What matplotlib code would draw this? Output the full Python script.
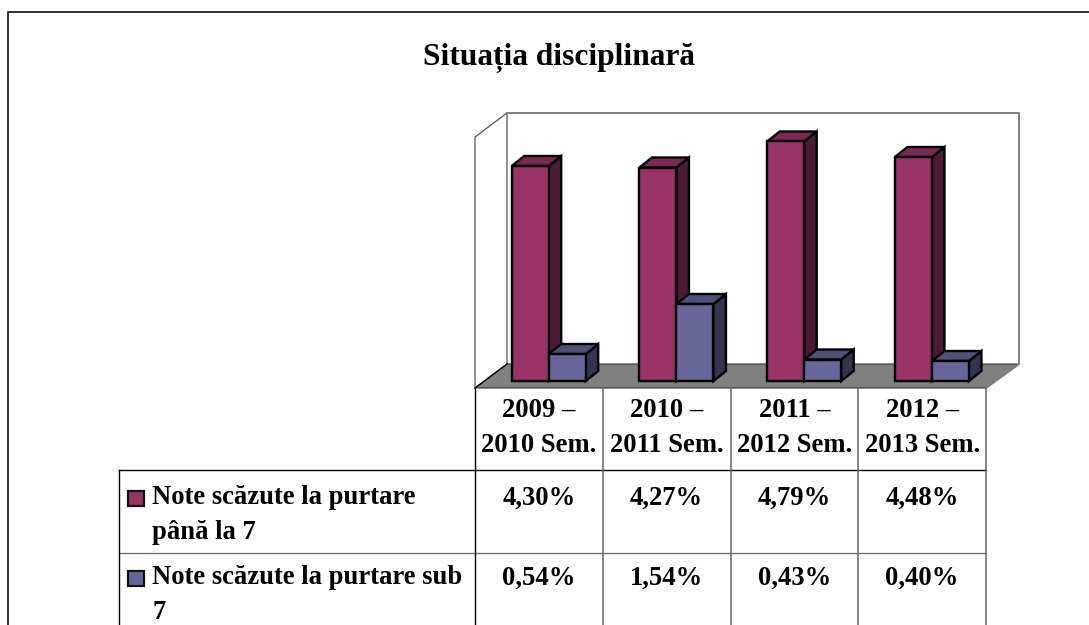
import matplotlib
matplotlib.use('Agg')
import matplotlib.pyplot as plt
from matplotlib.patches import Polygon

title = 'Situația disciplinară'
periods = ['2009 –\n2010 Sem.', '2010 –\n2011 Sem.', '2011 –\n2012 Sem.', '2012 –\n2013 Sem.']
series_names = ['Note scăzute la purtare\npână la 7', 'Note scăzute la purtare sub\n7']
series_a = [4.30, 4.27, 4.79, 4.48]
series_b = [0.54, 1.54, 0.43, 0.40]
labels_a = ['4,30%', '4,27%', '4,79%', '4,48%']
labels_b = ['0,54%', '1,54%', '0,43%', '0,40%']

W, H = 1089, 625
plt.rcParams['font.family'] = ['Liberation Serif', 'DejaVu Serif']
plt.rcParams['font.weight'] = 'bold'
fig = plt.figure(figsize=(W / 100, H / 100), dpi=100, facecolor='white')

# overlay in pixels for frame and table
px = fig.add_axes([0, 0, 1, 1])
px.set_xlim(0, W)
px.set_ylim(H, 0)
px.axis('off')

# chart axes: x = category number, y = percent; 127.75 px per category, 50 px per percent
x0, x1 = 475, 986
y_base, y_top = 381, 131
ax = fig.add_axes([x0 / W, 1 - y_base / H, (x1 - x0) / W, (y_base - y_top) / H])
ax.set_xlim(0, 4)
ax.set_ylim(0, 5)
ax.axis('off')
ax.patch.set_alpha(0)

px.plot([8, 8, W], [H, 12, 12], color='#222222', lw=1.3)
px.text(559, 58, title, fontsize=22.6, ha='center', va='center', color='black')

# walls and floor
wall = '#808080'
px.add_patch(Polygon([(475, 388), (507, 364), (1019, 364), (986, 388)], fc='#808080', ec='#333333', lw=0.8))
px.plot([475, 475, 507, 507], [388, 137, 113, 364], color='#555555', lw=0.9)
px.plot([507, 1019, 1019, 986], [113, 113, 364, 388], color=wall, lw=1.4)
px.plot([475, 507], [388, 364], color='black', lw=1)

# depth of a bar in data units
dx = 12.5 / 127.75
dy = 10 / 50


def bar3d(left, width, value, front, top, side):
    right = left + width
    ax.add_patch(Polygon([(right, 0), (right + dx, dy), (right + dx, value + dy), (right, value)],
                         fc=side, ec='black', lw=1.7, clip_on=False))
    ax.add_patch(Polygon([(left, value), (left + dx, value + dy), (right + dx, value + dy), (right, value)],
                         fc=top, ec='black', lw=1.7, clip_on=False))
    ax.bar(left, value, width, align='edge', color=front, edgecolor='black', lw=1.7, clip_on=False)


bw = 37 / 127.75
offs = 36.7 / 127.75
for i in range(4):
    bar3d(i + offs, bw, series_a[i], '#993366', '#7a2952', '#4d1a33')
    bar3d(i + offs + bw, bw, series_b[i], '#666699', '#515178', '#34344f')

# table lines
cols = [475, 602.75, 730.5, 858.25, 986]
px.plot([119, 986], [470, 470], color='black', lw=1)
px.plot([119, 986], [553, 553], color='#666666', lw=0.9)
px.plot([119, 119], [470, H], color='black', lw=1)
px.plot([475, 475], [388, H], color='black', lw=1)
for c in cols[1:]:
    px.plot([c, c], [388, H], color='#666666', lw=1.1)

for i in range(4):
    xc = (cols[i] + cols[i + 1]) / 2
    px.text(xc, 428, periods[i], fontsize=19.2, ha='center', va='center', linespacing=1.5, color='black')
    px.text(xc, 498, labels_a[i], fontsize=19.2, ha='center', va='center', color='black')
    px.text(xc, 578, labels_b[i], fontsize=19.2, ha='center', va='center', color='black')

# legend keys and names
rows = [(498, '#993366', 515, 0), (578.5, '#666699', 595, 1)]
for ky, col, ty, s in rows:
    px.add_patch(Polygon([(128, ky - 7.5), (143.5, ky - 7.5), (143.5, ky + 7.5), (128, ky + 7.5)],
                         fc=col, ec='#111111', lw=1.6))
    px.text(152, ty, series_names[s], fontsize=19.2, ha='left', va='center', linespacing=1.5, color='black')

fig.savefig('out.png', dpi=100)
